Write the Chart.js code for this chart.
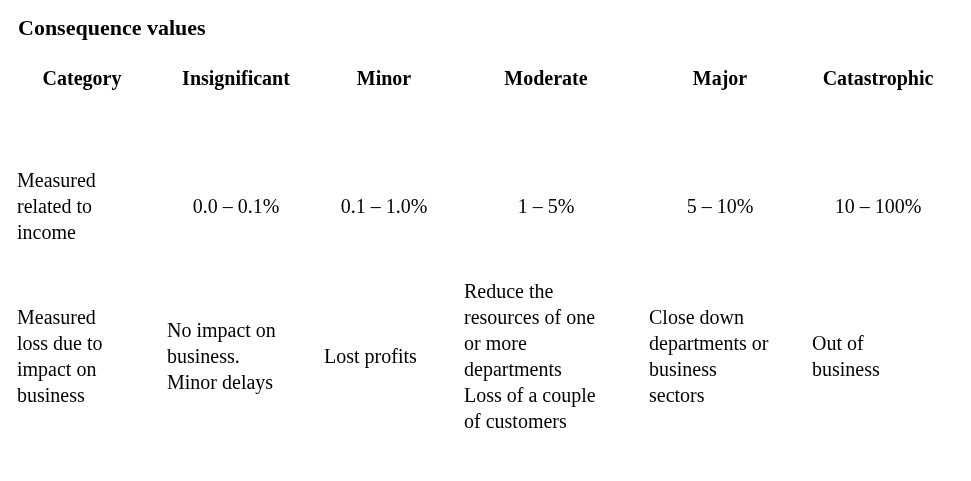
<!DOCTYPE html>
<html>
<head>
<meta charset="utf-8">
<script src="https://cdn.jsdelivr.net/npm/chart.js@4"></script>
<style>
  html, body { margin: 0; padding: 0; background: #fff; }
  #wrap { width: 971px; height: 481px; }
</style>
</head>
<body>
<div id="wrap"><canvas id="tableCanvas"></canvas></div>
<script>
// table content
const headers = ["Category", "Insignificant", "Minor", "Moderate", "Major", "Catastrophic"];
const incomeRow = ["Measured\nrelated to\nincome", "0.0 – 0.1%", "0.1 – 1.0%", "1 – 5%", "5 – 10%", "10 – 100%"];
const lossRow = [
    "Measured\nloss due to\nimpact on\nbusiness",
    "No impact on\nbusiness.\nMinor delays",
    "Lost profits",
    "Reduce the\nresources of one\nor more\ndepartments\nLoss of a couple\nof customers",
    "Close down\ndepartments or\nbusiness\nsectors",
    "Out of\nbusiness"
];

// layout (pixel-ish units on a 0..971 x 0..481 grid)
const colCenters = [82, 236, 384, 546, 720, 878];
const colLefts = [17, 167, 324, 464, 649, 812];
const rowCenters = [80, 208, 358];

const tablePlugin = {
    id: 'tableText',
    afterDraw(chart) {
        const c = chart.ctx;
        const xs = chart.scales.x, ys = chart.scales.y;
        const px = v => xs.getPixelForValue(v);
        const py = v => ys.getPixelForValue(v);
        c.save();
        c.fillStyle = '#000';
        c.textBaseline = 'middle';

        c.font = 'bold 22px "Liberation Serif", serif';
        c.textAlign = 'left';
        c.fillText('Consequence values', px(18), py(29));

        c.font = 'bold 20px "Liberation Serif", serif';
        c.textAlign = 'center';
        headers.forEach((h, i) => c.fillText(h, px(colCenters[i]), py(rowCenters[0])));

        c.font = '20px "Liberation Serif", serif';
        const drawCell = (text, i, row, align) => {
            const lines = text.split('\n');
            const lh = 26;
            const y0 = py(rowCenters[row]) - (lines.length - 1) * lh / 2;
            c.textAlign = align;
            const x = align === 'left' ? px(colLefts[i]) : px(colCenters[i]);
            lines.forEach((l, k) => c.fillText(l, x, y0 + k * lh));
        };
        incomeRow.forEach((t, i) => drawCell(t, i, 1, i === 0 ? 'left' : 'center'));
        lossRow.forEach((t, i) => drawCell(t, i, 2, 'left'));
        c.restore();
    }
};

const ctx = document.getElementById('tableCanvas').getContext('2d');
new Chart(ctx, {
    type: 'scatter',
    data: { datasets: [{ data: [] }] },
    options: {
        responsive: true,
        maintainAspectRatio: false,
        animation: false,
        layout: { padding: 0 },
        plugins: { legend: { display: false }, tooltip: { enabled: false } },
        scales: {
            x: { type: 'linear', min: 0, max: 971, display: false },
            y: { type: 'linear', min: 0, max: 481, reverse: true, display: false }
        }
    },
    plugins: [tablePlugin]
});
</script>
</body>
</html>
